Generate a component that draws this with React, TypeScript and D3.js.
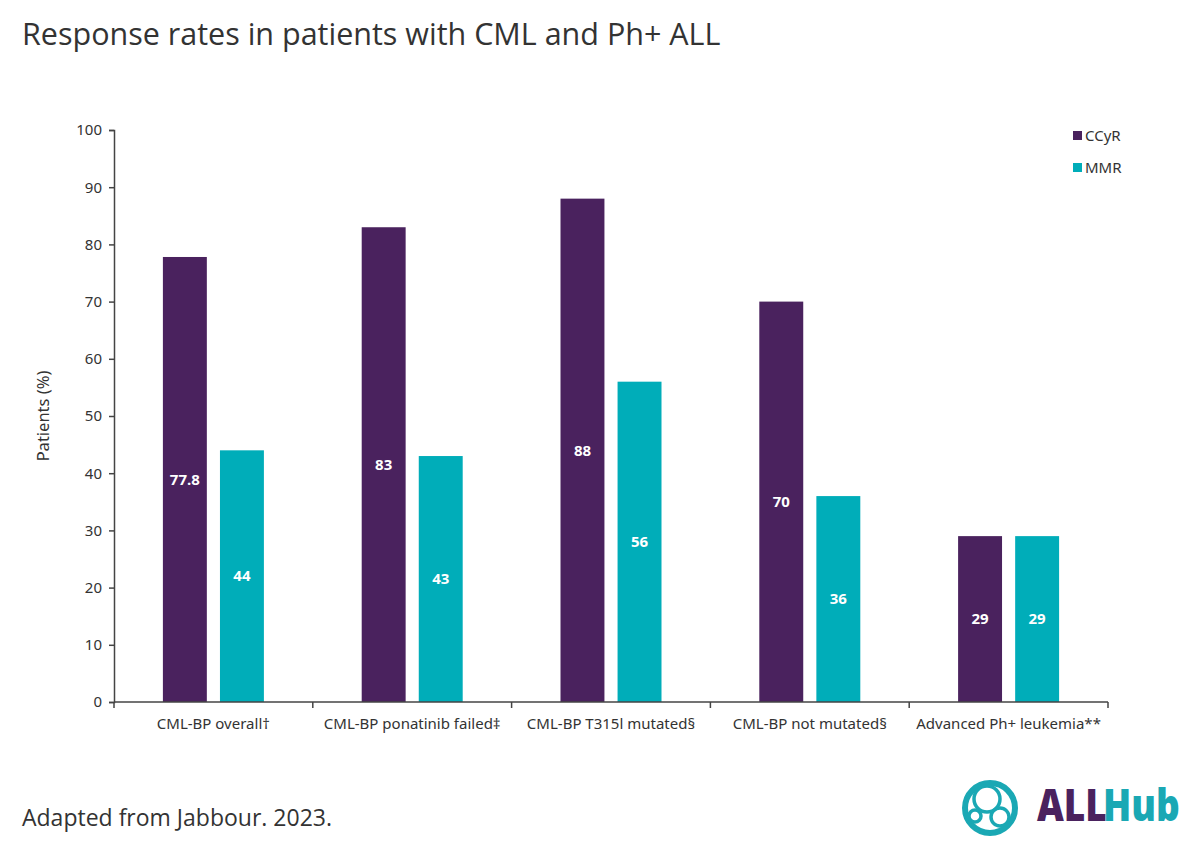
import React, { useEffect, useRef } from "react";
import * as d3 from "d3";

// Chart data
const categories = [
  "CML-BP overall†",
  "CML-BP ponatinib failed‡",
  "CML-BP T315l mutated§",
  "CML-BP not mutated§",
  "Advanced Ph+ leukemia**",
];
const seriesNames = ["CCyR", "MMR"];
const ccyrValues = [77.8, 83, 88, 70, 29];
const mmrValues = [44, 43, 56, 36, 29];
const yTicks = [0, 10, 20, 30, 40, 50, 60, 70, 80, 90, 100];
const colors = ["#4a225e", "#00adb9"];

const FONT = "'Noto Sans', 'Open Sans', sans-serif";

const App: React.FC = () => {
  const svgRef = useRef<SVGSVGElement | null>(null);
  const width = 1200;
  const height = 849;

  useEffect(() => {
    const svg = d3.select(svgRef.current);
    svg.selectAll("*").remove();

    const margin = { top: 130, right: 92, bottom: 147, left: 114 };
    const innerWidth = width - margin.left - margin.right;
    const innerHeight = height - margin.top - margin.bottom;

    svg.append("rect").attr("width", width).attr("height", height).attr("fill", "#fff");

    // Title
    svg
      .append("text")
      .attr("x", 22)
      .attr("y", 45)
      .attr("font-family", "'Open Sans', sans-serif")
      .attr("font-size", 30.5)
      .attr("fill", "#333")
      .text("Response rates in patients with CML and Ph+ ALL");

    const chart = svg
      .append("g")
      .attr("transform", `translate(${margin.left},${margin.top})`);

    const x0 = d3.scaleBand().domain(categories).range([0, innerWidth]).padding(0);
    const x1 = d3
      .scaleBand()
      .domain(seriesNames)
      .range([x0.bandwidth() / 2 - 50.5, x0.bandwidth() / 2 + 50.5])
      .paddingInner(0.23);
    const y = d3.scaleLinear().domain([0, 100]).range([innerHeight, 0]);

    // Bars
    const rows = categories.map((c, i) => ({
      category: c,
      values: [
        { name: seriesNames[0], value: ccyrValues[i] },
        { name: seriesNames[1], value: mmrValues[i] },
      ],
    }));

    const groups = chart
      .selectAll(".group")
      .data(rows)
      .enter()
      .append("g")
      .attr("class", "group")
      .attr("transform", (d) => `translate(${x0(d.category)},0)`);

    groups
      .selectAll("rect")
      .data((d) => d.values)
      .enter()
      .append("rect")
      .attr("x", (d) => x1(d.name)!)
      .attr("y", (d) => y(d.value))
      .attr("width", x1.bandwidth())
      .attr("height", (d) => innerHeight - y(d.value))
      .attr("fill", (d, i) => colors[i]);

    groups
      .selectAll("text.val")
      .data((d) => d.values)
      .enter()
      .append("text")
      .attr("class", "val")
      .attr("x", (d) => x1(d.name)! + x1.bandwidth() / 2)
      .attr("y", (d) => (y(d.value) + innerHeight) / 2)
      .attr("dy", "0.35em")
      .attr("text-anchor", "middle")
      .attr("font-family", "'Open Sans', sans-serif")
      .attr("font-weight", "bold")
      .attr("font-size", 15)
      .attr("fill", "#fff")
      .text((d) => String(d.value));

    // Y axis
    const yAxis = chart
      .append("g")
      .call(d3.axisLeft(y).tickValues(yTicks).tickSize(5).tickSizeOuter(5));
    yAxis.select(".domain").attr("stroke", "#444").attr("stroke-width", 1.5);
    yAxis.selectAll(".tick line").attr("stroke", "#444").attr("stroke-width", 1.5);
    yAxis
      .selectAll(".tick text")
      .attr("font-family", FONT)
      .attr("font-size", 15)
      .attr("fill", "#333")
      .attr("x", -12);

    // X axis with ticks at category boundaries
    const xAxisG = chart.append("g").attr("transform", `translate(0,${innerHeight})`);
    xAxisG
      .append("line")
      .attr("x1", 0)
      .attr("x2", innerWidth)
      .attr("stroke", "#444")
      .attr("stroke-width", 1.5);
    const boundaries = categories.map((c) => x0(c)!).concat([innerWidth]);
    xAxisG
      .selectAll("line.bt")
      .data(boundaries)
      .enter()
      .append("line")
      .attr("class", "bt")
      .attr("x1", (d) => d)
      .attr("x2", (d) => d)
      .attr("y1", 0)
      .attr("y2", 6)
      .attr("stroke", "#444")
      .attr("stroke-width", 1.5);
    xAxisG
      .selectAll("text")
      .data(categories)
      .enter()
      .append("text")
      .attr("x", (d) => x0(d)! + x0.bandwidth() / 2)
      .attr("y", 27)
      .attr("text-anchor", "middle")
      .attr("font-family", FONT)
      .attr("font-size", 15)
      .attr("fill", "#333")
      .text((d) => d);

    // Y label
    svg
      .append("text")
      .attr("transform", `translate(49,${margin.top + innerHeight / 2}) rotate(-90)`)
      .attr("text-anchor", "middle")
      .attr("font-family", FONT)
      .attr("font-size", 16.5)
      .attr("fill", "#333")
      .text("Patients (%)");

    // Legend
    const legend = svg.append("g").attr("transform", "translate(1073,131)");
    seriesNames.forEach((name, i) => {
      legend
        .append("rect")
        .attr("x", 0)
        .attr("y", i * 32)
        .attr("width", 9)
        .attr("height", 9)
        .attr("fill", colors[i]);
      legend
        .append("text")
        .attr("x", 12)
        .attr("y", i * 32 + 10)
        .attr("font-family", FONT)
        .attr("font-size", 15)
        .attr("fill", "#333")
        .text(name);
    });

    // Footer
    svg
      .append("text")
      .attr("x", 22)
      .attr("y", 826)
      .attr("font-family", "'Open Sans', sans-serif")
      .attr("font-size", 23)
      .attr("fill", "#333")
      .text("Adapted from Jabbour. 2023.");

    // Logo
    const teal = "#1aa8b4";
    const logo = svg.append("g").attr("transform", "translate(990,808)");
    logo
      .append("circle")
      .attr("r", 25)
      .attr("fill", "none")
      .attr("stroke", teal)
      .attr("stroke-width", 6);
    [
      [-3, -9, 13],
      [10, 9, 9],
      [-15, 8, 6],
    ].forEach(([cx, cy, r]) => {
      logo
        .append("circle")
        .attr("cx", cx)
        .attr("cy", cy)
        .attr("r", r)
        .attr("fill", "none")
        .attr("stroke", teal)
        .attr("stroke-width", 3.5);
    });
    svg
      .append("text")
      .attr("transform", "translate(1037,821) scale(0.84,1)")
      .attr("font-family", "'Open Sans', sans-serif")
      .attr("font-weight", 800)
      .attr("font-size", 44)
      .attr("fill", "#4a225e")
      .text("ALL");
    svg
      .append("text")
      .attr("transform", "translate(1103,821) scale(0.84,1)")
      .attr("font-family", "'Open Sans', sans-serif")
      .attr("font-weight", 800)
      .attr("font-size", 44)
      .attr("fill", teal)
      .text("Hub");
  }, []);

  return (
    <svg
      ref={svgRef}
      width={width}
      height={height}
      style={{ position: "absolute", left: 0, top: 0 }}
    />
  );
};

export default App;
